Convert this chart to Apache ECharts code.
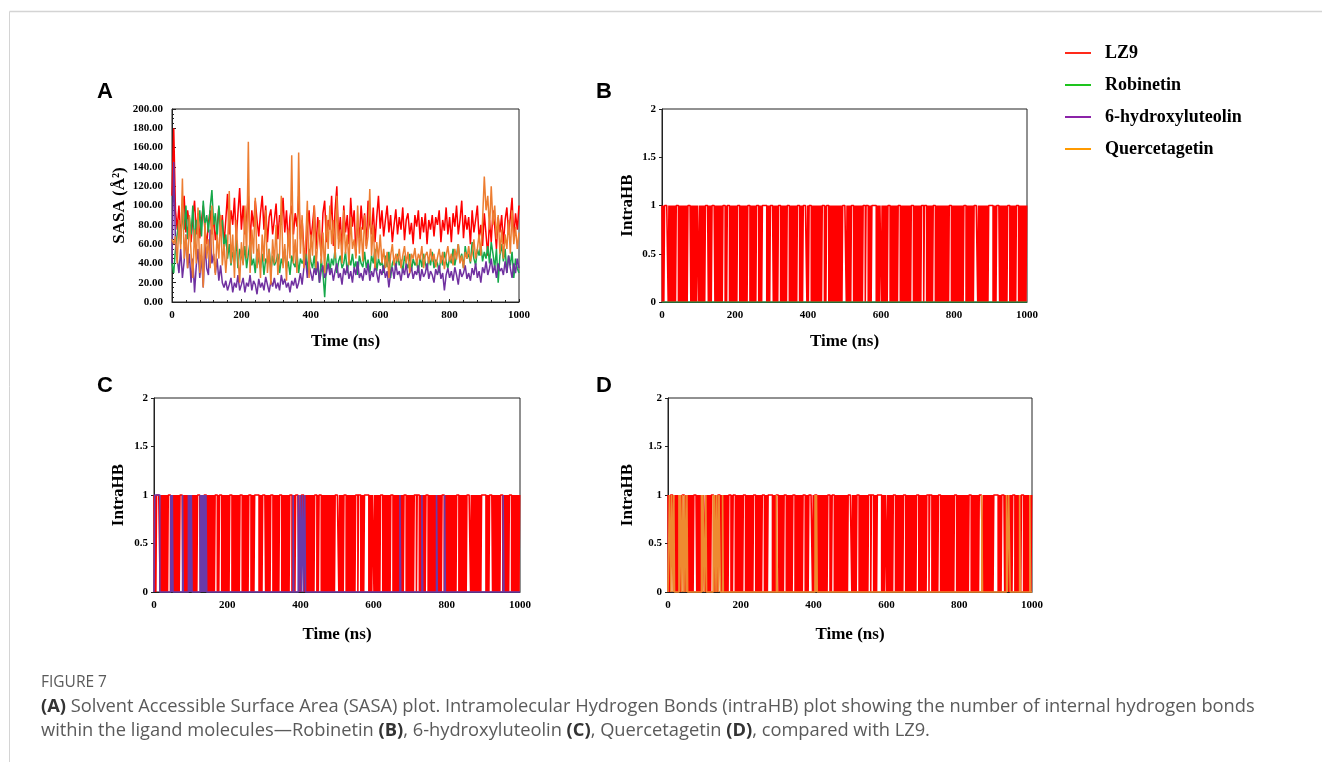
<!DOCTYPE html>
<html><head><meta charset="utf-8">
<script src="https://cdn.jsdelivr.net/npm/echarts@6/dist/echarts.min.js"></script>
<style>html,body{margin:0;padding:0;background:#fff}#c{width:1322px;height:762px}</style>
</head><body><div id="c"></div>
<script>
const seriesNames = ['LZ9', 'Robinetin', '6-hydroxyluteolin', 'Quercetagetin'];
const lineColors = ['#ff0000', '#16a84a', '#7030a0', '#ed7d31'];
const legendColors = ['#ff2a1a', '#1ec41e', '#8b23a8', '#ff9a00'];

// Panel A: SASA (Å²), sampled every 5 ns from 0 to 1000 ns
const sasaStep = 5;
const sasaLZ9 = [110,180,95,75,100,68,90,110,72,95,80,
 62,88,105,70,92,66,85,100,74,60,
 82,95,70,88,64,78,98,72,90,60,
 85,112,70,95,80,108,65,92,118,75,
 100,70,88,110,62,95,78,105,85,68,
 92,110,75,100,62,88,96,70,85,102,
 65,90,80,108,72,95,58,88,100,70,
 92,78,110,65,85,55,40,75,95,62,
 80,100,55,88,70,48,92,105,62,85,
 75,110,58,95,120,65,88,52,100,72,
 90,60,108,78,95,48,85,66,100,75,
 92,58,105,80,70,98,62,88,110,76,
 95,68,85,100,72,90,62,80,96,70,
 88,75,98,64,85,92,70,82,60,90,
 78,95,65,88,72,92,60,85,75,90,
 68,88,80,95,62,85,74,98,70,88,
 62,92,78,100,70,85,105,66,90,75,
 88,60,95,72,85,100,65,80,58,92,
 70,48,85,62,95,78,55,88,72,90,
 60,85,98,70,88,108,65,92,75,100];
const sasaRobinetin = [40,30,55,70,85,60,95,75,100,65,88,
 70,100,60,85,75,95,68,105,80,90,
 72,98,116,80,92,65,100,78,85,55,
 70,45,60,38,52,42,65,35,55,48,
 40,58,35,50,62,38,45,30,55,42,
 35,50,28,45,40,55,32,48,38,42,
 50,30,45,38,55,35,42,28,48,40,
 36,52,30,45,40,38,50,32,55,42,
 35,48,28,40,20,45,30,5,38,50,
 32,45,38,55,30,42,48,35,40,52,
 30,45,38,50,35,42,28,48,40,36,
 52,35,44,30,48,40,55,32,45,38,
 42,30,48,36,52,25,40,45,33,50,
 38,44,30,48,40,35,50,32,45,38,
 42,30,48,36,50,40,33,46,38,52,
 35,44,40,30,48,38,52,42,35,46,
 40,55,38,48,60,42,50,35,58,45,
 50,40,62,45,38,55,48,60,42,52,
 45,58,40,62,50,35,55,20,48,60,
 42,55,30,48,38,52,25,45,35,30];
const sasaHydroxy = [40,145,60,45,30,55,25,42,70,35,50,
 20,45,10,38,55,25,48,15,60,35,
 28,75,40,50,30,45,22,38,20,15,
 22,12,18,25,10,20,15,28,12,18,
 25,10,20,16,28,12,22,18,8,24,
 15,20,12,26,18,10,22,16,25,14,
 20,12,28,18,24,15,20,10,22,17,
 25,14,20,30,18,35,45,25,38,30,
 22,35,28,42,20,32,38,25,30,40,
 28,35,22,32,40,25,30,18,35,28,
 38,24,32,20,36,28,42,25,30,22,
 35,28,40,22,32,26,38,30,20,34,
 28,38,25,32,15,30,36,24,40,28,
 32,22,35,28,40,25,30,36,24,32,
 28,38,22,34,26,30,40,24,32,28,
 20,34,28,38,24,30,12,28,35,25,
 32,22,36,28,18,34,26,30,38,24,
 30,22,35,28,40,25,32,20,36,30,
 42,28,35,45,30,38,25,40,32,35,
 28,42,30,48,35,25,40,30,45,35];
const sasaQuercetagetin = [65,60,68,40,85,55,128,45,70,35,90,
 50,25,75,40,98,30,60,15,82,45,
 65,35,100,50,28,70,45,90,38,60,
 30,55,115,40,70,25,85,48,20,62,
 38,100,45,166,30,75,50,108,35,60,
 25,70,42,95,30,55,18,65,40,80,
 28,50,110,35,60,22,75,45,152,40,
 65,30,155,50,90,35,60,105,25,70,
 48,100,35,62,85,40,72,30,90,55,
 100,60,85,45,110,55,75,40,95,50,
 70,38,88,55,65,45,100,50,78,42,
 90,55,68,117,48,80,35,62,45,70,
 40,55,35,52,25,48,60,38,50,42,
 55,35,48,58,40,52,30,50,45,56,
 38,50,44,58,35,48,52,40,55,42,
 50,36,46,55,40,52,34,48,58,42,
 50,38,55,44,60,40,48,35,52,45,
 58,42,50,65,45,55,70,48,85,130,
 95,110,75,120,80,100,65,90,50,75,
 45,70,55,85,50,95,60,78,55,72];

// IntraHB of LZ9, one digit per 2 ns frame (0 ... 1000 ns)
const hbStep = 2;
const hbLZ9Chunks = [
 '1010111110','1010101010','1110101010','1010101111','0101010101',
 '1010101010','1111010101','1110101010','1010111010','1110101010',
 '1010111010','1010101011','1010101010','1110101011','1111010101',
 '1110101010','1110101010','1011101010','1010101110','1010111110',
 '1011101010','1010101010','1110101110','1010101010','1010101011',
 '1110101010','1110101010','1010101110','1110101011','1111010101',
 '1010101010','1110101010','1010111010','1010101010','1011101010',
 '1010101110','1110101010','1011101010','1010101010','1010111010',
 '1010101010','1010111010','1010101011','1110101010','1010101011',
 '1111010101','1110101010','1010111010','1010101110','1010101010',
 '1'];
// IntraHB of the ligands: [time (ns), count] change points
const hbRobinetin = [[0,0],[1000,0]];
const hbHydroxy = [[0,0],[2,1],[16,0],[46,1],[48,0],[50,1],[52,0],[78,1],[80,0],
 [94,1],[96,0],[98,1],[100,0],[102,1],[104,0],[126,1],[128,0],[130,1],[132,0],
 [134,1],[136,0],[138,1],[140,0],[142,1],[144,0],[380,1],[382,0],[394,1],[396,0],
 [400,1],[402,0],[406,1],[408,0],[412,1],[414,0],[672,1],[674,0],[732,1],[734,0],
 [772,1],[774,0],[794,1],[796,0],[954,1],[956,0],[1000,0]];
const hbQuercetagetin = [[0,0],[4,1],[8,0],[10,1],[14,0],[16,1],[18,0],[30,1],[32,0],
 [34,1],[38,0],[40,1],[44,0],[46,1],[50,0],[52,1],[54,0],[92,1],[94,0],[96,1],[100,0],
 [104,1],[106,0],[124,1],[126,0],[128,1],[132,0],[134,1],[138,0],[140,1],[144,0],
 [150,1],[152,0],[298,1],[300,0],[404,1],[406,0],[408,1],[410,0],[862,1],[864,0],
 [930,1],[932,0],[936,1],[940,0],[966,1],[968,0],[994,1],[996,0],[1000,0]];

const xTicks = {min: 0, max: 1000, interval: 200};
const sasaTicks = {min: 0, max: 200, interval: 20};
const hbTicks = {min: 0, max: 2, interval: 0.5};

const serif = '"Liberation Serif", "Times New Roman", serif';
const sasaPairs = arr => arr.map((v, i) => [i * sasaStep, v]);
const hbLZ9 = hbLZ9Chunks.join('').split('').map((c, i) => [i * hbStep, Number(c)]);

const grids = [
  {left: 172, top: 109, width: 347, height: 193},
  {left: 662, top: 109, width: 365, height: 193},
  {left: 154, top: 398, width: 366, height: 194},
  {left: 668, top: 398, width: 364, height: 194}
].map(g => Object.assign({show: true, borderColor: '#222', borderWidth: 1, backgroundColor: 'transparent'}, g));

const labelStyle = {fontFamily: serif, fontWeight: 'bold', fontSize: 11, color: '#000'};
const nameStyle = {fontFamily: serif, fontWeight: 'bold', fontSize: 17, color: '#000'};

function xAxis(i, gap, isA) {
  return {
    type: 'value', gridIndex: i, min: xTicks.min, max: xTicks.max, interval: xTicks.interval,
    name: 'Time (ns)', nameLocation: 'middle', nameGap: gap, nameTextStyle: nameStyle,
    axisLine: {lineStyle: {color: '#222', width: 1}},
    axisTick: {show: isA, inside: true, length: 3, lineStyle: {color: '#222'}},
    minorTick: {show: isA, splitNumber: 5, length: 2, lineStyle: {color: '#222'}},
    splitLine: {show: false},
    axisLabel: Object.assign({margin: 8, formatter: v => String(v)}, labelStyle)
  };
}
function yAxisHB(i, gap) {
  return {
    type: 'value', gridIndex: i, min: hbTicks.min, max: hbTicks.max, interval: hbTicks.interval,
    name: 'IntraHB', nameLocation: 'middle', nameGap: gap, nameTextStyle: nameStyle,
    axisLine: {lineStyle: {color: '#222', width: 1}},
    axisTick: {show: true, inside: false, length: 3, lineStyle: {color: '#222'}},
    splitLine: {show: false},
    axisLabel: Object.assign({margin: 6, formatter: v => String(v)}, labelStyle)
  };
}

const xAxes = [xAxis(0, 31, true), xAxis(1, 31, false), xAxis(2, 34, false), xAxis(3, 34, false)];
const yAxes = [
  {
    type: 'value', gridIndex: 0, min: sasaTicks.min, max: sasaTicks.max, interval: sasaTicks.interval,
    name: 'SASA (Å²)', nameLocation: 'middle', nameGap: 44, nameTextStyle: nameStyle,
    axisLine: {lineStyle: {color: '#222', width: 1}},
    axisTick: {show: true, inside: true, length: 4, lineStyle: {color: '#222'}},
    minorTick: {show: true, splitNumber: 4, length: 2, lineStyle: {color: '#222'}},
    splitLine: {show: false},
    axisLabel: Object.assign({margin: 9, formatter: v => v.toFixed(2)}, labelStyle)
  },
  yAxisHB(1, 26), yAxisHB(2, 27), yAxisHB(3, 32)
];

function line(name, data, gi, color, width, step) {
  const s = {
    type: 'line', name: name, data: data, xAxisIndex: gi, yAxisIndex: gi,
    symbol: 'none', showSymbol: false, clip: false,
    lineStyle: {color: color, width: width}, itemStyle: {color: color},
    emphasis: {disabled: true}, animation: false
  };
  if (step) s.step = step;
  return s;
}

const series = [
  line(seriesNames[0], sasaPairs(sasaLZ9), 0, lineColors[0], 1.5),
  line(seriesNames[1], sasaPairs(sasaRobinetin), 0, lineColors[1], 1.5),
  line(seriesNames[2], sasaPairs(sasaHydroxy), 0, lineColors[2], 1.5),
  line(seriesNames[3], sasaPairs(sasaQuercetagetin), 0, lineColors[3], 1.5),
  line(seriesNames[0], hbLZ9, 1, lineColors[0], 1.6, 'middle'),
  line(seriesNames[1], hbRobinetin, 1, '#22b04a', 1.2, 'end'),
  line(seriesNames[0], hbLZ9, 2, lineColors[0], 1.6, 'middle'),
  line(seriesNames[2], hbHydroxy, 2, '#6a3aa8', 1.6, 'end'),
  line(seriesNames[0], hbLZ9, 3, lineColors[0], 1.6, 'middle'),
  line(seriesNames[3], hbQuercetagetin, 3, '#ee8a30', 1.6, 'end')
];

const sans = '"Liberation Sans", Arial, sans-serif';
const capFont = '"Open Sans", "Noto Sans", sans-serif';
function letter(t, x, y) {
  return {type: 'text', x: x, y: y, silent: true,
    style: {text: t, fontFamily: sans, fontWeight: 'bold', fontSize: 22, fill: '#000', align: 'center', verticalAlign: 'middle'}};
}
const capSize = 18.3;
const capRich = {b: {fontFamily: capFont, fontWeight: 'bold', fontSize: capSize, fill: '#333'}};
function capLine(t, y) {
  return {type: 'text', x: 41, y: y, silent: true,
    style: {text: t, fontFamily: capFont, fontSize: capSize, fill: '#5a5a5a', align: 'left', verticalAlign: 'middle', rich: capRich}};
}

const chart = echarts.init(document.getElementById('c'), null, {renderer: 'canvas'});
chart.setOption({
  animation: false,
  backgroundColor: '#fff',
  grid: grids,
  xAxis: xAxes,
  yAxis: yAxes,
  legend: {
    orient: 'vertical', left: 1065, top: 44, padding: 0, itemWidth: 26, itemHeight: 14, itemGap: 14,
    selectedMode: false,
    textStyle: {fontFamily: serif, fontWeight: 'bold', fontSize: 18, color: '#000', lineHeight: 18, padding: [0, 0, 0, 9]},
    data: seriesNames.map((n, i) => ({name: n, icon: 'path://M0,0 L26,0 L26,2 L0,2 Z', itemStyle: {color: legendColors[i]}, lineStyle: {color: legendColors[i]}}))
  },
  series: series,
  graphic: [
    {type: 'line', silent: true, shape: {x1: 9.5, y1: 11.5, x2: 1322, y2: 11.5}, style: {stroke: '#d4d4d4', lineWidth: 1.5}},
    {type: 'line', silent: true, shape: {x1: 9.5, y1: 11.5, x2: 9.5, y2: 762}, style: {stroke: '#d4d4d4', lineWidth: 1}},
    letter('A', 105, 92), letter('B', 604, 92), letter('C', 105, 386), letter('D', 604, 386),
    {type: 'text', x: 41, y: 683, silent: true,
      style: {text: 'FIGURE 7', fontFamily: capFont, fontSize: 15.5, fill: '#5a5a5a', align: 'left', verticalAlign: 'middle'}},
    capLine('{b|(A)} Solvent Accessible Surface Area (SASA) plot. Intramolecular Hydrogen Bonds (intraHB) plot showing the number of internal hydrogen bonds', 707),
    capLine('within the ligand molecules\u2014Robinetin {b|(B)}, 6-hydroxyluteolin {b|(C)}, Quercetagetin {b|(D)}, compared with LZ9.', 731)
  ]
});
</script>
</body></html>
